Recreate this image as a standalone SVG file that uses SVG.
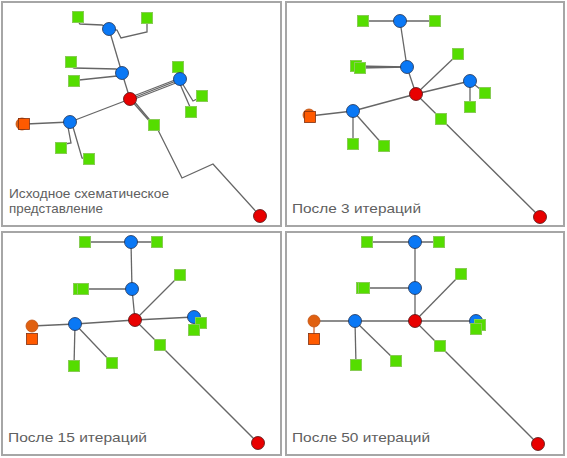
<svg xmlns="http://www.w3.org/2000/svg" width="567" height="458" viewBox="0 0 567 458">
<style>
.panel{fill:#fff;stroke:#a6a6a6;stroke-width:2}
.e{fill:none;stroke:#666;stroke-width:1.3}
.eo{fill:none;stroke:#d05a20;stroke-width:1.2}
.g{fill:#55dd00;stroke:#88cc55;stroke-width:1}
.b{fill:#0a78f5;stroke:#203050;stroke-width:0.8}
.r{fill:#e80000;stroke:#501010;stroke-width:0.8}
.oc{fill:#e06010;stroke:#c05010;stroke-width:0.8}
.os{fill:#ff5a00;stroke:#803010;stroke-width:0.8}
.t{font-family:"Liberation Sans",Arial,sans-serif;font-size:13.5px;fill:#606060}
</style>
<defs>
<rect id="sq" x="-5.5" y="-5.5" width="11" height="11"/>
</defs>
<rect class="panel" x="2" y="2" width="279" height="224"/>
<rect class="panel" x="286" y="2" width="278" height="224"/>
<rect class="panel" x="2" y="232" width="279" height="223"/>
<rect class="panel" x="286" y="232" width="278" height="223"/>

<!-- Panel 1 -->
<g id="p1-connectors">
<polyline class="e" points="79,23 80,24 102,25 109,29"/>
<polyline class="e" points="109,29 117,30 121,38 147,32 147,23"/>
<line class="e" x1="109" y1="29" x2="122" y2="73"/>
<polyline class="e" points="72,67 74,68 116,69 122,73"/>
<polyline class="e" points="79,80 117,76 122,73"/>
<line class="e" x1="122" y1="73" x2="130" y2="99"/>
<line class="e" x1="131" y1="97" x2="180" y2="78"/>
<line class="e" x1="132" y1="100" x2="181" y2="81"/>
<polyline class="e" points="133,98 176,81 178,72"/>
<polyline class="e" points="182,83 193,101 199,98"/>
<polyline class="e" points="180,84 190,107"/>
<polyline class="e" points="130,99 152,124"/>
<polyline class="e" points="133,100 154,125 158,130 182,178 213,164 260,216"/>
<line class="e" x1="130" y1="99" x2="70" y2="122"/>
<line class="e" x1="70" y1="122" x2="26" y2="124"/>
<polyline class="e" points="68,127 71,143 65,144"/>
<polyline class="e" points="73,127 82,158 86,159"/>
</g>
<g id="p1-g1"><use href="#sq" class="g" x="78" y="17"/></g>
<g id="p1-g2"><use href="#sq" class="g" x="147" y="18"/></g>
<g id="p1-b1"><circle class="b" cx="109" cy="29" r="6.5"/></g>
<g id="p1-g3"><use href="#sq" class="g" x="71" y="62"/></g>
<g id="p1-g4"><use href="#sq" class="g" x="74" y="81"/></g>
<g id="p1-b2"><circle class="b" cx="122" cy="73" r="6.5"/></g>
<g id="p1-g5"><use href="#sq" class="g" x="178" y="67"/></g>
<g id="p1-b3"><circle class="b" cx="180" cy="79" r="6.5"/></g>
<g id="p1-g6"><use href="#sq" class="g" x="202" y="96"/></g>
<g id="p1-g7"><use href="#sq" class="g" x="191" y="112"/></g>
<g id="p1-r1"><circle class="r" cx="130" cy="99" r="6.5"/></g>
<g id="p1-g8"><use href="#sq" class="g" x="154" y="125"/></g>
<g id="p1-b4"><circle class="b" cx="70" cy="122" r="6.5"/></g>
<g id="p1-o1"><circle class="oc" cx="22" cy="124" r="6"/><use href="#sq" class="os" x="24" y="124"/></g>
<g id="p1-g9"><use href="#sq" class="g" x="61" y="148"/></g>
<g id="p1-g10"><use href="#sq" class="g" x="89" y="159"/></g>
<g id="p1-r2"><circle class="r" cx="260" cy="216" r="6.5"/></g>
<text class="t"><tspan x="9" y="198" textLength="160" lengthAdjust="spacingAndGlyphs">Исходное схематическое</tspan><tspan x="9" y="213" textLength="94" lengthAdjust="spacingAndGlyphs">представление</tspan></text>

<!-- Panel 2 -->
<g id="p2-connectors">
<line class="e" x1="363" y1="21" x2="435" y2="21"/>
<line class="e" x1="400" y1="21" x2="407" y2="67"/>
<line class="e" x1="356" y1="66" x2="407" y2="67"/>
<line class="e" x1="360" y1="68" x2="407" y2="67"/>
<line class="e" x1="407" y1="67" x2="416" y2="94"/>
<line class="e" x1="416" y1="94" x2="458" y2="54"/>
<line class="e" x1="416" y1="94" x2="470" y2="81"/>
<line class="e" x1="470" y1="81" x2="485" y2="93"/>
<line class="e" x1="470" y1="81" x2="470" y2="107"/>
<line class="e" x1="416" y1="94" x2="540" y2="217"/>
<line class="e" x1="416" y1="94" x2="353" y2="111"/>
<line class="e" x1="353" y1="111" x2="310" y2="116"/>
<line class="e" x1="353" y1="111" x2="353" y2="144"/>
<line class="e" x1="353" y1="111" x2="384" y2="146"/>
</g>
<g id="p2-g1"><use href="#sq" class="g" x="363" y="21"/></g>
<g id="p2-g2"><use href="#sq" class="g" x="435" y="21"/></g>
<g id="p2-b1"><circle class="b" cx="400" cy="21" r="6.5"/></g>
<g id="p2-g3"><use href="#sq" class="g" x="356" y="66"/></g>
<g id="p2-g4"><use href="#sq" class="g" x="360" y="68"/></g>
<g id="p2-b2"><circle class="b" cx="407" cy="67" r="6.5"/></g>
<g id="p2-g5"><use href="#sq" class="g" x="458" y="54"/></g>
<g id="p2-b3"><circle class="b" cx="470" cy="81" r="6.5"/></g>
<g id="p2-g6"><use href="#sq" class="g" x="485" y="93"/></g>
<g id="p2-g7"><use href="#sq" class="g" x="470" y="107"/></g>
<g id="p2-r1"><circle class="r" cx="416" cy="94" r="6.5"/></g>
<g id="p2-g8"><use href="#sq" class="g" x="441" y="119"/></g>
<g id="p2-b4"><circle class="b" cx="353" cy="111" r="6.5"/></g>
<g id="p2-o1"><circle class="oc" cx="309" cy="115" r="6"/><use href="#sq" class="os" x="310" y="117"/></g>
<g id="p2-g9"><use href="#sq" class="g" x="353" y="144"/></g>
<g id="p2-g10"><use href="#sq" class="g" x="384" y="146"/></g>
<g id="p2-r2"><circle class="r" cx="540" cy="217" r="6.5"/></g>
<text class="t" x="292" y="213" textLength="129" lengthAdjust="spacingAndGlyphs">После 3 итераций</text>

<!-- Panel 3 -->
<g id="p3-connectors">
<line class="e" x1="85" y1="242" x2="157" y2="242"/>
<line class="e" x1="131" y1="242" x2="132" y2="289"/>
<line class="e" x1="79" y1="289" x2="132" y2="289"/>
<line class="e" x1="132" y1="289" x2="135" y2="320"/>
<line class="e" x1="135" y1="320" x2="180" y2="275"/>
<line class="e" x1="135" y1="320" x2="194" y2="317"/>
<line class="e" x1="135" y1="320" x2="258" y2="443"/>
<line class="e" x1="135" y1="320" x2="75" y2="324"/>
<line class="e" x1="75" y1="324" x2="32" y2="326"/>
<line class="e" x1="75" y1="324" x2="74" y2="366"/>
<line class="e" x1="75" y1="324" x2="112" y2="363"/>
</g>
<g id="p3-g1"><use href="#sq" class="g" x="85" y="242"/></g>
<g id="p3-g2"><use href="#sq" class="g" x="157" y="242"/></g>
<g id="p3-b1"><circle class="b" cx="131" cy="242" r="6.5"/></g>
<g id="p3-g3"><use href="#sq" class="g" x="79" y="289"/></g>
<g id="p3-g4"><use href="#sq" class="g" x="83" y="289"/></g>
<g id="p3-b2"><circle class="b" cx="132" cy="289" r="6.5"/></g>
<g id="p3-g5"><use href="#sq" class="g" x="180" y="275"/></g>
<g id="p3-b3"><circle class="b" cx="194" cy="317" r="6.5"/></g>
<g id="p3-g6"><use href="#sq" class="g" x="201" y="323"/></g>
<g id="p3-g7"><use href="#sq" class="g" x="194" y="330"/></g>
<g id="p3-r1"><circle class="r" cx="135" cy="320" r="6.5"/></g>
<g id="p3-g8"><use href="#sq" class="g" x="160" y="345"/></g>
<g id="p3-b4"><circle class="b" cx="75" cy="324" r="6.5"/></g>
<g id="p3-o1"><circle class="oc" cx="32" cy="326" r="6"/><use href="#sq" class="os" x="32" y="339"/></g>
<g id="p3-g9"><use href="#sq" class="g" x="74" y="366"/></g>
<g id="p3-g10"><use href="#sq" class="g" x="112" y="363"/></g>
<g id="p3-r2"><circle class="r" cx="258" cy="443" r="6.5"/></g>
<text class="t" x="8" y="442" textLength="139" lengthAdjust="spacingAndGlyphs">После 15 итераций</text>

<!-- Panel 4 -->
<g id="p4-connectors">
<line class="e" x1="367" y1="242" x2="439" y2="242"/>
<line class="e" x1="415" y1="242" x2="415" y2="288"/>
<line class="e" x1="362" y1="288" x2="415" y2="288"/>
<line class="e" x1="415" y1="288" x2="415" y2="321"/>
<line class="e" x1="415" y1="321" x2="461" y2="274"/>
<line class="e" x1="415" y1="321" x2="476" y2="321"/>
<line class="e" x1="415" y1="321" x2="538" y2="444"/>
<line class="e" x1="415" y1="321" x2="314" y2="321"/>
<line class="e" x1="355" y1="321" x2="356" y2="365"/>
<line class="e" x1="355" y1="321" x2="396" y2="361"/>
<line class="eo" x1="314" y1="327" x2="314" y2="334"/>
</g>
<g id="p4-g1"><use href="#sq" class="g" x="367" y="242"/></g>
<g id="p4-g2"><use href="#sq" class="g" x="439" y="242"/></g>
<g id="p4-b1"><circle class="b" cx="415" cy="242" r="6.5"/></g>
<g id="p4-g3"><use href="#sq" class="g" x="362" y="288"/></g>
<g id="p4-g4"><use href="#sq" class="g" x="364" y="288"/></g>
<g id="p4-b2"><circle class="b" cx="415" cy="288" r="6.5"/></g>
<g id="p4-g5"><use href="#sq" class="g" x="461" y="274"/></g>
<g id="p4-b3"><circle class="b" cx="476" cy="321" r="6.5"/></g>
<g id="p4-g6"><use href="#sq" class="g" x="480" y="325"/></g>
<g id="p4-g7"><use href="#sq" class="g" x="476" y="329"/></g>
<g id="p4-r1"><circle class="r" cx="415" cy="321" r="6.5"/></g>
<g id="p4-g8"><use href="#sq" class="g" x="440" y="346"/></g>
<g id="p4-b4"><circle class="b" cx="355" cy="321" r="6.5"/></g>
<g id="p4-o1"><circle class="oc" cx="314" cy="321" r="6"/><use href="#sq" class="os" x="314" y="339"/></g>
<g id="p4-g9"><use href="#sq" class="g" x="356" y="365"/></g>
<g id="p4-g10"><use href="#sq" class="g" x="396" y="361"/></g>
<g id="p4-r2"><circle class="r" cx="538" cy="444" r="6.5"/></g>
<text class="t" x="292" y="442" textLength="138" lengthAdjust="spacingAndGlyphs">После 50 итераций</text>
</svg>
